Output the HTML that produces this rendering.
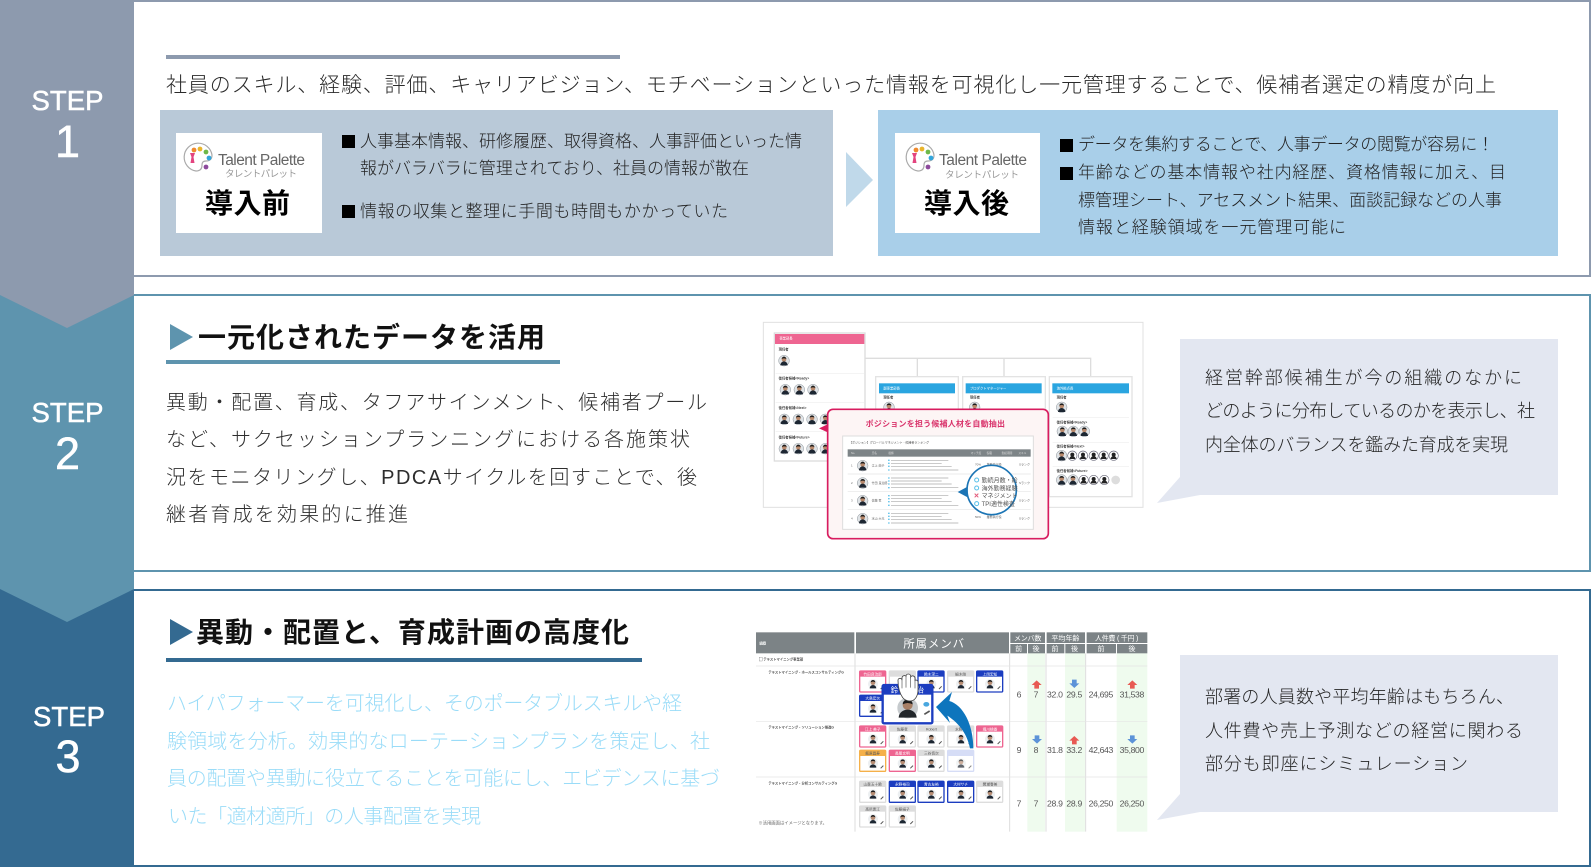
<!DOCTYPE html>
<html lang="ja"><head><meta charset="utf-8"><title>STEP</title>
<style>
html,body{margin:0;padding:0;background:#fff;width:1591px;height:867px;overflow:hidden}
svg{display:block}
text{font-family:"Liberation Sans","Noto Sans CJK JP",sans-serif}
.t{font-weight:300}
</style></head><body>
<svg xmlns="http://www.w3.org/2000/svg" width="1591" height="867" viewBox="0 0 1591 867">
<defs>
<filter id="b" x="-5%" y="-5%" width="110%" height="110%"><feGaussianBlur stdDeviation="0.4"/></filter>
<g id="pal">
<path d="M-3 13A14 14 0 1 1 13 -3Q13 3 7 3Q3 3 3 7Q3 13 -3 13Z" fill="#fff" stroke="#aaa" stroke-width="1.2"/>
<circle cx="-5" cy="-8" r="2.4" fill="#ef8a2e"/><circle cx="1" cy="-9" r="2.4" fill="#e9b52b"/><circle cx="7" cy="-6" r="2.4" fill="#6db84a"/><circle cx="10" cy="0" r="2.4" fill="#31a6dc"/><circle cx="7" cy="9" r="2.4" fill="#8d4a9c"/>
<path d="M-9-5h5l-1.5 4 1 6h-4l1-6z" fill="#e3447f"/>
</g>
<g id="av"><circle r="16" fill="#dfe3e6" stroke="#8a9299" stroke-width="1.5"/><circle cy="-4" r="7" fill="#b8896c"/><path d="M-7-5a7 7 0 0 1 14 0q-7-4-14 0z" fill="#1c1c1c"/><path d="M-11 14a11 12 0 0 1 22 0z" fill="#1f2630"/></g>
<g id="av2"><circle r="14" fill="#fff" stroke="#667" stroke-width="2"/><circle cy="-3" r="6" fill="#222"/><path d="M-9 10a9 9 0 0 1 18 0z" fill="#222"/></g>
<g id="c"><rect x="1" y="1" width="78" height="63" rx="3" fill="#fff" stroke="currentColor" stroke-width="4"/><rect x="1" y="1" width="78" height="17" fill="currentColor"/><circle cx="41" cy="40" r="15" fill="#eceff1"/><circle cx="41" cy="36" r="7" fill="#b88e75"/><path d="M34 35a7 7 0 0 1 14 0q-7-4-14 0z" fill="#1c1c1c"/><path d="M31 53a10 10 0 0 1 20 0z" fill="#1f2630"/><path d="M64 55l8-8" stroke="#555" stroke-width="3"/></g>
</defs>

<!-- panels -->
<rect x="130" y="1" width="1460" height="275" fill="#fff" stroke="#8d9aae" stroke-width="2"/>
<rect x="130" y="295" width="1460" height="276" fill="#fff" stroke="#5e94ae" stroke-width="2"/>
<rect x="130" y="590" width="1460" height="276" fill="#fff" stroke="#346a91" stroke-width="2"/>

<!-- sidebar -->
<rect x="0" y="589" width="134" height="278" fill="#346a91"/>
<polygon points="0,295 134,295 134,589 67,622 0,589" fill="#5e94ae"/>
<polygon points="0,0 134,0 134,295 67,328 0,295" fill="#8d9aae"/>
<g fill="#fff" stroke="#fff" stroke-width=".5" text-anchor="middle">
<text x="67.5" y="110" font-size="27.5" textLength="72">STEP</text>
<text x="67.5" y="157" font-size="45">1</text>
<text x="67.5" y="422" font-size="27.5" textLength="72">STEP</text>
<text x="67.5" y="469" font-size="45">2</text>
<text x="69" y="726" font-size="27.5" textLength="72">STEP</text>
<text x="68" y="772" font-size="45">3</text>
</g>

<!-- step 1 -->
<rect x="166" y="55" width="454" height="4" fill="#8d9aae"/>
<text class="t" x="166" y="92" font-size="21" fill="#2a2a2a" textLength="1330">社員のスキル、経験、評価、キャリアビジョン、モチベーションといった情報を可視化し一元管理することで、候補者選定の精度が向上</text>
<rect x="160" y="110" width="673" height="146" fill="#b9c9d8"/>
<rect x="176" y="133" width="146" height="100" fill="#fff"/>
<use href="#pal" x="199" y="158"/>
<text x="218" y="165" font-size="15.5" fill="#666" textLength="87">Talent Palette</text>
<text x="225" y="177" font-size="9.5" fill="#999" textLength="72">タレントパレット</text>
<text x="205" y="213" font-size="28" font-weight="700" fill="#000" textLength="85">導入前</text>
<rect x="342" y="135" width="13" height="13" fill="#000"/>
<rect x="342" y="205" width="13" height="13" fill="#000"/>
<g font-size="17" fill="#222" class="t">
<text x="360" y="147" textLength="442">人事基本情報、研修履歴、取得資格、人事評価といった情</text>
<text x="360" y="174" textLength="389">報がバラバラに管理されており、社員の情報が散在</text>
<text x="360" y="217" textLength="368">情報の収集と整理に手間も時間もかかっていた</text>
</g>
<polygon points="846,152 873,180 846,207" fill="#c0d9ea"/>
<rect x="878" y="110" width="680" height="146" fill="#a9cfe9"/>
<rect x="895" y="133" width="145" height="100" fill="#fff"/>
<use href="#pal" x="921" y="158"/>
<text x="939" y="165" font-size="15.5" fill="#666" textLength="88">Talent Palette</text>
<text x="945" y="178" font-size="9.5" fill="#999" textLength="74">タレントパレット</text>
<text x="924" y="213" font-size="28" font-weight="700" fill="#000" textLength="85">導入後</text>
<rect x="1060" y="139" width="13" height="13" fill="#000"/>
<rect x="1060" y="167" width="13" height="13" fill="#000"/>
<g font-size="17" fill="#222" class="t">
<text x="1078" y="150" textLength="416">データを集約することで、人事データの閲覧が容易に！</text>
<text x="1078" y="178" textLength="428">年齢などの基本情報や社内経歴、資格情報に加え、目</text>
<text x="1078" y="206" textLength="424">標管理シート、アセスメント結果、面談記録などの人事</text>
<text x="1078" y="233" textLength="268">情報と経験領域を一元管理可能に</text>
</g>

<!-- step 2 -->
<polygon points="170,324 193,337 170,350" fill="#5e94ae"/>
<text x="198" y="347" font-size="28" font-weight="700" fill="#111" textLength="347">一元化されたデータを活用</text>
<rect x="166" y="360" width="394" height="4" fill="#5e94ae"/>
<g font-size="20" fill="#2e2e2e" class="t">
<text x="166" y="409" textLength="541">異動・配置、育成、タフアサインメント、候補者プール</text>
<text x="166" y="446" textLength="524">など、サクセッションプランニングにおける各施策状</text>
<text x="166" y="484" textLength="531">況をモニタリングし、PDCAサイクルを回すことで、後</text>
<text x="166" y="521" textLength="242">継者育成を効果的に推進</text>
</g>

<!-- image 2 -->
<g transform="translate(745,310) scale(.33333)" filter="url(#b)">
<rect x="55" y="37" width="1139" height="555" fill="#fff" stroke="#e0e0e0" stroke-width="3"/>
<path d="M360 145H1037V200M517 145V200M777 145V200" fill="none" stroke="#ddd" stroke-width="4"/>
<rect x="392" y="200" width="248" height="120" fill="#fff" stroke="#e3e3e3" stroke-width="4"/>
<rect x="653" y="200" width="248" height="120" fill="#fff" stroke="#e3e3e3" stroke-width="4"/>
<rect x="913" y="200" width="248" height="360" fill="#fff" stroke="#e3e3e3" stroke-width="4"/>
<rect x="402" y="220" width="228" height="30" fill="#2ba5e0"/><rect x="662" y="220" width="228" height="30" fill="#2ba5e0"/><rect x="922" y="220" width="230" height="30" fill="#2ba5e0"/>
<g font-size="10" fill="#fff"><text x="415" y="238">副事業部長</text><text x="675" y="238">プロダクトマネージャー</text><text x="935" y="238">海外拠点長</text></g>
<g font-size="10" font-weight="700" fill="#444"><text x="415" y="265">現任者</text><text x="675" y="265">現任者</text><text x="935" y="265">現任者</text></g>
<use href="#av" x="432" y="292"/><use href="#av" x="689" y="292"/><use href="#av" x="950" y="292"/>
<path d="M923 322H1152M923 397H1152M923 470H1152" stroke="#eee" stroke-width="2"/>
<g font-size="10" font-weight="700" fill="#444"><text x="935" y="340">後任者候補&lt;Ready&gt;</text><text x="935" y="412">後任者候補&lt;Next&gt;</text><text x="935" y="486">後任者候補&lt;Future&gt;</text></g>
<use href="#av" x="952" y="364"/><use href="#av" x="985" y="364"/><use href="#av" x="1018" y="364"/>
<use href="#av" x="950" y="437"/><use href="#av2" x="982" y="437"/><use href="#av2" x="1014" y="437"/><use href="#av2" x="1046" y="437"/><use href="#av2" x="1076" y="437"/><use href="#av2" x="1106" y="437"/>
<use href="#av" x="950" y="510"/><use href="#av" x="984" y="510"/><use href="#av2" x="1016" y="510"/><use href="#av2" x="1046" y="510"/><use href="#av2" x="1078" y="510"/><circle cx="1112" cy="510" r="13" fill="#ddd"/>
<rect x="88" y="69" width="272" height="384" fill="#fff" stroke="#ddd" stroke-width="4"/>
<rect x="90" y="72" width="268" height="30" fill="#ee6591"/>
<text x="103" y="89" font-size="10" fill="#fff">事業部長</text>
<path d="M92 190H357M92 277H357M92 365H357" stroke="#eee" stroke-width="2"/>
<g font-size="10" font-weight="700" fill="#444"><text x="101" y="122">現任者</text><text x="101" y="208">後任者候補&lt;Ready&gt;</text><text x="101" y="297">後任者候補&lt;Next&gt;</text><text x="101" y="385">後任者候補&lt;Future&gt;</text></g>
<use href="#av" x="117" y="152"/><use href="#av" x="121" y="239"/><use href="#av" x="163" y="239"/><use href="#av" x="204" y="239"/>
<use href="#av" x="118" y="328"/><use href="#av" x="160" y="328"/><use href="#av" x="201" y="328"/><use href="#av" x="241" y="328"/>
<use href="#av" x="118" y="416"/><use href="#av" x="160" y="416"/><use href="#av" x="201" y="416"/><use href="#av" x="241" y="416"/>
<rect x="248" y="298" width="662" height="388" rx="16" fill="#fdf5f5" stroke="#d81e5f" stroke-width="5"/>
<polygon points="222,355 250,342 250,368" fill="#d81e5f"/>
<text x="362" y="350" font-size="24" font-weight="700" fill="#d9336b" textLength="418">ポジションを担う候補人材を自動抽出</text>
<rect x="293" y="378" width="572" height="280" fill="#fff" stroke="#ddd" stroke-width="3"/>
<text x="312" y="400" font-size="9" fill="#555">【ポジション】グローバルマネジメント - 候補者ランキング</text>
<rect x="308" y="418" width="549" height="22" fill="#7d8487"/>
<g font-size="8" fill="#ddd"><text x="318" y="432">No.</text><text x="380" y="432">氏名</text><text x="430" y="432">根拠</text><text x="677" y="432">マッチ度</text><text x="725" y="432">役職</text><text x="770" y="432">勤続期間</text><text x="820" y="432">スキル</text></g>
<path d="M308 492H857M308 545H857M308 598H857" stroke="#e5e5e5" stroke-width="2"/>
<g stroke="#aaa" stroke-width="2"><path d="M438 451H610M438 460H590M438 469H620M438 480H640M438 504H610M438 513H590M438 522H620M438 533H640M438 557H610M438 566H590M438 575H620M438 586H640M438 610H610M438 619H590M438 628H620M438 639H640"/></g>
<g stroke="#6cc7ec" stroke-width="4"><path d="M429 451h5M429 460h5M429 469h5M429 480h5M429 504h5M429 513h5M429 522h5M429 533h5M429 557h5M429 566h5M429 575h5M429 586h5M429 610h5M429 619h5M429 628h5M429 639h5"/></g>
<g font-size="9" fill="#666"><text x="318" y="470">1</text><text x="318" y="522">2</text><text x="318" y="575">3</text><text x="318" y="628">4</text><text x="380" y="470">江上 由子</text><text x="380" y="522">竹田 良治郎</text><text x="380" y="575">佐藤 孝</text><text x="380" y="628">水山 大亮</text><text x="690" y="466">70%</text><text x="690" y="624">50%</text><text x="725" y="466">業務執行役</text><text x="725" y="624">業務執行役</text><text x="822" y="466">Sランク</text><text x="822" y="522">Sランク</text><text x="822" y="575">Sランク</text><text x="822" y="628">Sランク</text></g>
<use href="#av" x="353" y="467" /><use href="#av" x="353" y="519"/><use href="#av" x="353" y="572"/><use href="#av" x="353" y="626"/>
<circle cx="740" cy="540" r="74" fill="#fff" stroke="#1b75b5" stroke-width="5"/>
<polygon points="638,546 668,530 668,562" fill="#1b75b5"/>
<g font-size="18" fill="#555"><text x="710" y="517">勤続月数・給</text><text x="710" y="541">海外勤務経験</text><text x="710" y="564">マネジメント</text><text x="710" y="588">TPI適性検査</text></g>
<g fill="none" stroke="#56bfe9" stroke-width="3"><circle cx="695" cy="510" r="6"/><circle cx="695" cy="534" r="6"/><circle cx="695" cy="581" r="6"/></g>
<path d="M689 551l11 11M700 551l-11 11" stroke="#e25a7a" stroke-width="3"/>
</g>

<!-- callout 2 -->
<polygon points="1180,339 1558,339 1558,495 1200,495 1157,503 1180,477" fill="#e3e7f1"/>
<g font-size="18" fill="#262626" class="t">
<text x="1205" y="384" textLength="317">経営幹部候補生が今の組織のなかに</text>
<text x="1205" y="417" textLength="330">どのように分布しているのかを表示し、社</text>
<text x="1205" y="451" textLength="303">内全体のバランスを鑑みた育成を実現</text>
</g>

<!-- step 3 -->
<polygon points="170,619 193,632 170,645" fill="#346a91"/>
<text x="196" y="642" font-size="28" font-weight="700" fill="#111" textLength="433">異動・配置と、育成計画の高度化</text>
<rect x="166" y="658" width="476" height="4" fill="#346a91"/>
<g font-size="20" fill="#9adcf8" class="t">
<text x="167" y="710" textLength="515">ハイパフォーマーを可視化し、そのポータブルスキルや経</text>
<text x="167" y="748" textLength="543">験領域を分析。効果的なローテーションプランを策定し、社</text>
<text x="167" y="785" textLength="553">員の配置や異動に役立てることを可能にし、エビデンスに基づ</text>
<text x="168" y="823" textLength="313">いた「適材適所」の人事配置を実現</text>
</g>

<!-- image 3 -->
<g transform="translate(740,615) scale(.33333)" filter="url(#b)">
<rect x="862" y="115" width="53" height="535" fill="#effbee"/><rect x="975" y="115" width="60" height="535" fill="#effbee"/><rect x="1130" y="115" width="92" height="535" fill="#effbee"/>
<rect x="48" y="52" width="295" height="63" fill="#7b8386"/><rect x="348" y="52" width="459" height="63" fill="#7b8386"/>
<rect x="811" y="52" width="104" height="32" fill="#7b8386"/><rect x="920" y="52" width="115" height="32" fill="#7b8386"/><rect x="1040" y="52" width="182" height="32" fill="#7b8386"/>
<rect x="811" y="87" width="50" height="28" fill="#7b8386"/><rect x="864" y="87" width="51" height="28" fill="#7b8386"/><rect x="920" y="87" width="53" height="28" fill="#7b8386"/><rect x="976" y="87" width="59" height="28" fill="#7b8386"/><rect x="1040" y="87" width="88" height="28" fill="#7b8386"/><rect x="1131" y="87" width="91" height="28" fill="#7b8386"/>
<text x="58" y="88" font-size="10" font-weight="700" fill="#fff">組織</text>
<text x="490" y="97" font-size="34" fill="#fff" textLength="182">所属メンバ</text>
<g font-size="21" fill="#fff" text-anchor="middle"><text x="863" y="76" textLength="82">メンバ数</text><text x="976" y="76" textLength="84">平均年齢</text><text x="1130" y="76" textLength="130">人件費 ( 千円 )</text>
<text x="836" y="108">前</text><text x="888" y="108">後</text><text x="945" y="108">前</text><text x="1004" y="108">後</text><text x="1083" y="108">前</text><text x="1176" y="108">後</text></g>
<path d="M345 115V650M809 115V650M918 115V650M1037 115V650" stroke="#ddd" stroke-width="3"/>
<path d="M48 153H1222M48 320H1222M48 486H1222" stroke="#e5e5e5" stroke-width="2"/>
<rect x="58" y="127" width="9" height="11" fill="none" stroke="#777"/>
<g font-size="10" font-weight="700" fill="#555"><text x="70" y="137">テキストマイニング事業部</text><text x="85" y="176">テキストマイニング・ホールスコンサルティングG</text><text x="85" y="340">テキストマイニング・ソリューション推進G</text><text x="85" y="508">テキストマイニング・分析コンサルティングG</text></g>
<text x="55" y="628" font-size="13" fill="#666">※活用画面はイメージとなります。</text>

<use href="#c" x="358" y="167" style="color:#ee6591"/><use href="#c" x="447" y="167" style="color:#ddd"/><use href="#c" x="533" y="167" style="color:#1a3ec0"/><use href="#c" x="622" y="167" style="color:#ddd"/><use href="#c" x="709" y="167" style="color:#1a3ec0"/><use href="#c" x="358" y="240" style="color:#1a3ec0"/>
<use href="#c" x="358" y="332" style="color:#ee6591"/><use href="#c" x="447" y="332" style="color:#ddd"/><use href="#c" x="533" y="332" style="color:#ddd"/><use href="#c" x="622" y="332" style="color:#ddd"/><use href="#c" x="709" y="332" style="color:#ee6591"/>
<use href="#c" x="358" y="405" style="color:#f5b04a"/><use href="#c" x="447" y="405" style="color:#ee6591"/><use href="#c" x="533" y="405" style="color:#ddd"/><use href="#c" x="622" y="405" style="color:#c5cff2" opacity=".7"/>
<use href="#c" x="358" y="498" style="color:#ddd"/><use href="#c" x="447" y="498" style="color:#1a3ec0"/><use href="#c" x="533" y="498" style="color:#1a3ec0"/><use href="#c" x="622" y="498" style="color:#1a3ec0"/><use href="#c" x="709" y="498" style="color:#ddd"/><use href="#c" x="358" y="572" style="color:#ddd"/><use href="#c" x="447" y="572" style="color:#ddd"/>
<g font-size="11" text-anchor="middle">
<g fill="#fff"><text x="398" y="181">竹田良治郎</text><text x="574" y="181">鈴木深二</text><text x="750" y="181">上岡宏知</text><text x="398" y="254">大島宏次</text><text x="398" y="346">江上 美子</text><text x="750" y="346">堀川桃香</text><text x="487" y="419">長尾文明</text><text x="487" y="512">永野裕司</text><text x="574" y="512">青古友裕</text><text x="662" y="512">大村サチ</text></g>
<g fill="#555"><text x="662" y="181">細木剛</text><text x="487" y="346">佐藤孝</text><text x="574" y="346">Robert</text><text x="662" y="346">水野司</text><text x="398" y="419">飯原昌寿</text><text x="574" y="419">三谷慎次</text><text x="398" y="512">山森五十鈴</text><text x="750" y="512">間瀬春美</text><text x="398" y="586">高所恵江</text><text x="487" y="586">佐藤絹子</text></g>
</g>
<rect x="428" y="210" width="149" height="115" rx="4" fill="#fff" stroke="#1a3ec0" stroke-width="7"/>
<rect x="428" y="210" width="149" height="29" fill="#1a3ec0"/>
<text x="452" y="233" font-size="22" fill="#fff">鈴</text><text x="530" y="233" font-size="22" fill="#fff">治</text>
<circle cx="503" cy="279" r="31" fill="#c6cacd"/><circle cx="503" cy="270" r="15" fill="#a87f66"/><path d="M488 268a15 15 0 0 1 30 0q-15-8-30 0z" fill="#1a1a1a"/><path d="M476 308a27 24 0 0 1 54 0z" fill="#22262c"/>
<ellipse cx="559" cy="268" rx="9" ry="7" fill="#4aa7df"/><path d="M553 298l16-10" stroke="#555" stroke-width="5"/>
<path d="M488 248C480 236 474 222 474 196a6 6 0 0 1 12 0V188a7 7 0 0 1 12-4a7 7 0 0 1 14 0V186a7 7 0 0 1 13 3V196a6 6 0 0 1 9 4V224C534 242 526 258 510 258C500 258 493 254 488 248Z" fill="#fff" stroke="#444" stroke-width="2.5"/>
<path d="M486 196V220M498 186V218M512 184V218M525 188V220" stroke="#555" stroke-width="2" fill="none"/>
<path d="M588 276L636 231L628 258C670 270 700 330 700 400L690 400C680 350 650 320 622 302L630 324Z" fill="#0e75bd"/>
<g font-size="26" fill="#555" text-anchor="middle">
<text x="837" y="247">6</text><text x="888" y="247">7</text><text x="945" y="247" textLength="48">32.0</text><text x="1003" y="247" textLength="48">29.5</text><text x="1083" y="247" textLength="74">24,695</text><text x="1176" y="247" textLength="74">31,538</text>
<text x="837" y="414">9</text><text x="888" y="414">8</text><text x="945" y="414" textLength="48">31.8</text><text x="1003" y="414" textLength="48">33.2</text><text x="1083" y="414" textLength="74">42,643</text><text x="1176" y="414" textLength="74">35,800</text>
<text x="837" y="575">7</text><text x="888" y="575">7</text><text x="945" y="575" textLength="48">28.9</text><text x="1003" y="575" textLength="48">28.9</text><text x="1083" y="575" textLength="74">26,250</text><text x="1176" y="575" textLength="74">26,250</text>
</g>
<g fill="#e85a52"><path d="M890 196l15 14h-8v11h-14v-11h-8z"/><path d="M1177 196l15 14h-8v11h-14v-11h-8z"/><path d="M1003 363l15 14h-8v11h-14v-11h-8z"/></g>
<g fill="#5c93d8"><path d="M1003 219l-15-14h8v-11h14v11h8z"/><path d="M891 386l-15-14h8v-11h14v11h8z"/><path d="M1177 386l-15-14h8v-11h14v11h8z"/></g>
</g>

<!-- callout 3 -->
<polygon points="1180,655 1558,655 1558,812 1200,812 1157,820 1180,794" fill="#e3e7f1"/>
<g font-size="18" fill="#262626" class="t">
<text x="1205" y="703" textLength="309">部署の人員数や平均年齢はもちろん、</text>
<text x="1205" y="737" textLength="318">人件費や売上予測などの経営に関わる</text>
<text x="1205" y="770" textLength="263">部分も即座にシミュレーション</text>
</g>
</svg>
</body></html>
